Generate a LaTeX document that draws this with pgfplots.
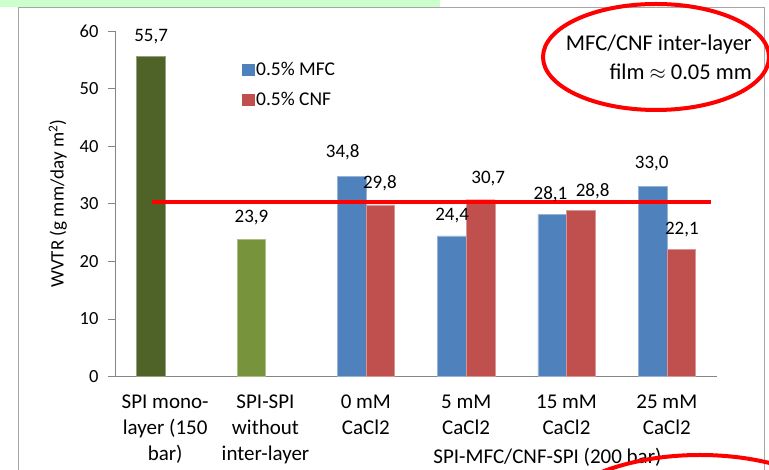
\documentclass[border=0pt]{standalone}
\usepackage{pgfplots}
\pgfplotsset{compat=1.18}
\usepackage{fontspec}
\setmainfont{Carlito}
\definecolor{darkgreen}{HTML}{4F6228}
\definecolor{olivegr}{HTML}{77933C}
\definecolor{xblue}{HTML}{4F81BD}
\definecolor{xred}{HTML}{C0504D}
\definecolor{framegray}{HTML}{A6A6A6}
\definecolor{axisgray}{HTML}{868686}
\definecolor{topgreen}{HTML}{CCFFCC}
\begin{document}
\begin{tikzpicture}[x=1pt,y=1pt]
\useasboundingbox (0,0) rectangle (769,470);
\fill[white] (0,0) rectangle (769,470);
\fill[topgreen] (0,463) rectangle (440,470);
\draw[framegray, line width=1pt] (18,-10) -- (18,462) -- (764,462) -- (764,-10);
\begin{axis}[
  at={(115pt,93.5pt)}, anchor=south west,
  scale only axis, width=602pt, height=345.5pt,
  xmin=-0.5, xmax=5.5, ymin=0, ymax=60,
  axis lines*=left,
  axis line style={axisgray, line width=0.8pt},
  clip=false,
  ybar, bar width=0.286,
  ytick={0,10,...,60},
  xtick={0,...,5},
  xticklabels={{SPI mono-\\layer (150\\bar)},{SPI-SPI\\without\\inter-layer},{0 mM\\CaCl2},{5 mM\\CaCl2},{15 mM\\CaCl2},{25 mM\\CaCl2}},
  x tick label style={align=center, font=\fontsize{21}{26}\selectfont, yshift=-8pt},
  y tick label style={font=\fontsize{18.5}{20}\selectfont, xshift=-6pt},
  xtick style={draw=none},
  ytick style={axisgray, line width=0.8pt},
  tick align=outside, major tick length=7pt,
  ylabel={WVTR (g mm/day m\textsuperscript{2})},
  ylabel style={font=\fontsize{19}{22}\selectfont, at={(axis description cs:-0.095,0.5)}, anchor=center},
  /pgf/number format/assume math mode=true,
  legend style={at={(0.211,0.915)}, anchor=north west, draw=none, fill=none,
    font=\fontsize{19.5}{21}\selectfont, row sep=11pt, inner sep=0pt,
    nodes={inner sep=2pt}},
  legend cell align=left,
]
\addplot[fill=darkgreen, draw=darkgreen!60!white, bar shift=-0.143, forget plot] coordinates {(0,55.7)};
\addplot[fill=olivegr, draw=olivegr!60!white, bar shift=-0.143, forget plot] coordinates {(1,23.9)};
\addplot[fill=xblue, draw=xblue!60!white, bar shift=-0.143,
  legend image code/.code={\fill[xblue] (0pt,-5.5pt) rectangle (11.5pt,5.5pt);}]
  coordinates {(2,34.8) (3,24.4) (4,28.1) (5,33.0)};
\addlegendentry{0.5\% MFC}
\addplot[fill=xred, draw=xred!60!white, bar shift=0.143,
  legend image code/.code={\fill[xred] (0pt,-5.5pt) rectangle (11.5pt,5.5pt);}]
  coordinates {(2,29.8) (3,30.7) (4,28.8) (5,22.1)};
\addlegendentry{0.5\% CNF}
\draw[red, line width=4pt] (axis cs:-0.13,30.3) -- (axis cs:5.44,30.3);
\begin{scope}[font=\fontsize{19}{21}\selectfont]
\node at (axis cs:-0.14,59.0) {55,7};
\node at (axis cs:0.86,27.6) {23,9};
\node at (axis cs:1.77,38.9) {34,8};
\node at (axis cs:2.14,33.5) {29,8};
\node at (axis cs:2.86,28.0) {24,4};
\node at (axis cs:3.22,34.4) {30,7};
\node at (axis cs:3.84,31.7) {28,1};
\node at (axis cs:4.26,32.1) {28,8};
\node at (axis cs:4.85,36.9) {33,0};
\node at (axis cs:5.15,25.6) {22,1};
\end{scope}
\node[font=\fontsize{21}{26}\selectfont] at (axis cs:3.81,-14.0) {SPI-MFC/CNF-SPI (200 bar)};
\end{axis}
\node[anchor=east, align=right, font=\fontsize{22.5}{29}\selectfont, inner sep=0pt] at (752,412.5) {MFC/CNF inter-layer\\film $\approx$ 0.05 mm};
\draw[red, line width=4pt] (656,413) ellipse [x radius=113pt, y radius=53pt];
\draw[red, line width=4pt] (700,-70) ellipse [x radius=164pt, y radius=85pt];
\end{tikzpicture}
\end{document}
